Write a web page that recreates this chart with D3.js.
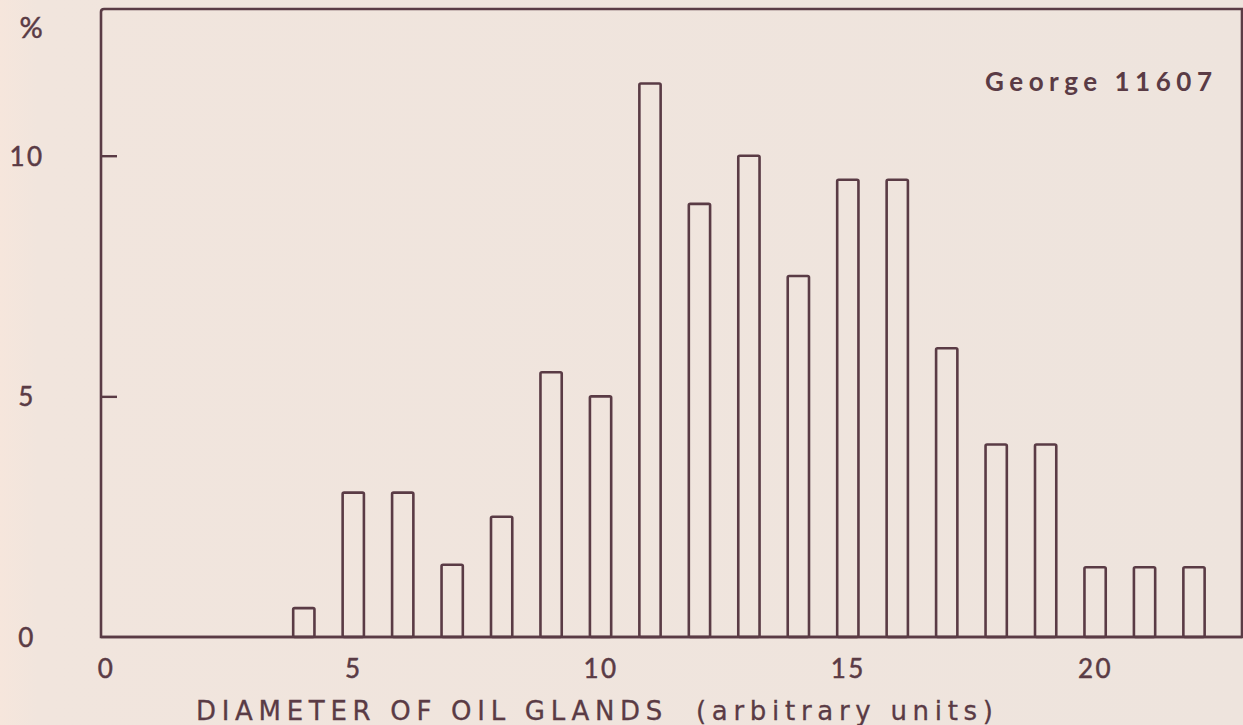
<!DOCTYPE html>
<html>
<head>
<meta charset="utf-8">
<script src="https://cdn.jsdelivr.net/npm/d3@7"></script>
<style>
  html, body { margin: 0; padding: 0; background: #efe5de; }
  svg { display: block; }
  text { font-family: Lato, "Open Sans", sans-serif; fill: #5a3b45; }
</style>
</head>
<body>
<svg id="chart" width="1243" height="725"></svg>
<script>
// ---- data ----
const categories = [4, 5, 6, 7, 8, 9, 10, 11, 12, 13, 14, 15, 16, 17, 18, 19, 20, 21, 22];
const percents   = [0.6, 3, 3, 1.5, 2.5, 5.5, 5, 11.5, 9, 10, 7.5, 9.5, 9.5, 6, 4, 4, 1.45, 1.45, 1.45];
const xTickValues = [0, 5, 10, 15, 20];
const yTickValues = [0, 5, 10];
const xTitle = "DIAMETER OF OIL GLANDS  (arbitrary units)";
const yTitle = "%";
const sampleLabel = "George 11607";

const ink = "#5a3b45";
const svg = d3.select("#chart");

// background with a lighter left margin
const defs = svg.append("defs");
const grad = defs.append("linearGradient").attr("id", "bg").attr("x1", 0).attr("x2", 1);
grad.append("stop").attr("offset", 0).attr("stop-color", "#f6e6dc");
grad.append("stop").attr("offset", 0.03).attr("stop-color", "#f1e5dd");
grad.append("stop").attr("offset", 1).attr("stop-color", "#eee4dd");
svg.append("rect").attr("width", 1243).attr("height", 725).attr("fill", "url(#bg)");

const x = d3.scaleLinear().domain([0, 22]).range([106, 1194]);
const y = d3.scaleLinear().domain([0, 10]).range([637, 155.7]);

const frameL = 101, frameT = 9, frameR = 1242, frameB = y(0);

// frame
svg.append("path")
  .attr("d", `M${frameL},${frameB} L${frameL},${frameT + 3} Q${frameL},${frameT} ${frameL + 3},${frameT} L${frameR},${frameT} L${frameR},${frameB} Z`)
  .attr("fill", "none").attr("stroke", ink).attr("stroke-width", 2.6);

// y axis
const yAxis = svg.append("g").attr("transform", `translate(${frameL},0)`)
  .call(d3.axisLeft(y).tickValues(yTickValues).tickSize(-16).tickFormat(d3.format("d")));
yAxis.select(".domain").remove();
yAxis.selectAll(".tick line").attr("stroke", ink).attr("stroke-width", 2.4)
  .attr("opacity", d => d === 0 ? 0 : 1);
yAxis.selectAll(".tick text")
  .attr("x", -74).attr("dy", "0.36em").attr("text-anchor", "middle")
  .style("font-size", "26px").style("letter-spacing", "2.5px").style("fill", ink)
  .style("stroke", ink).style("stroke-width", 0.5);

// x axis (labels only)
const xAxis = svg.append("g").attr("transform", `translate(0,${frameB})`)
  .call(d3.axisBottom(x).tickValues(xTickValues).tickSize(0).tickPadding(23).tickFormat(d3.format("d")));
xAxis.select(".domain").remove();
xAxis.selectAll(".tick text")
  .style("font-size", "26px").style("letter-spacing", "2.5px").style("fill", ink)
  .style("stroke", ink).style("stroke-width", 0.5);

// bars
const halfW = 0.215;
svg.append("g").selectAll("rect").data(categories).join("rect")
  .attr("x", (d) => x(d - halfW))
  .attr("width", (d) => x(d + halfW) - x(d - halfW))
  .attr("y", (d, i) => y(percents[i]))
  .attr("height", (d, i) => frameB - y(percents[i]))
  .attr("rx", 1.5)
  .attr("fill", "none").attr("stroke", ink).attr("stroke-width", 2.6);

// baseline redraw over bars
svg.append("line").attr("x1", frameL).attr("x2", frameR).attr("y1", frameB).attr("y2", frameB)
  .attr("stroke", ink).attr("stroke-width", 2.6);

// titles
svg.append("text").attr("x", 31).attr("y", 38).attr("text-anchor", "middle")
  .style("font-size", "29px").style("stroke", ink).style("stroke-width", 0.5).text(yTitle);

svg.append("text").attr("x", 196).attr("y", 720)
  .attr("xml:space", "preserve").style("white-space", "pre")
  .attr("textLength", 797).attr("lengthAdjust", "spacing")
  .style("font-family", "'DejaVu Sans', sans-serif")
  .style("font-size", "26px").style("stroke", ink).style("stroke-width", 0.3)
  .text(xTitle);

svg.append("text").attr("x", 985).attr("y", 91)
  .attr("textLength", 227).attr("lengthAdjust", "spacing")
  .style("font-size", "26px").style("font-weight", "bold")
  .text(sampleLabel);
</script>
</body>
</html>
